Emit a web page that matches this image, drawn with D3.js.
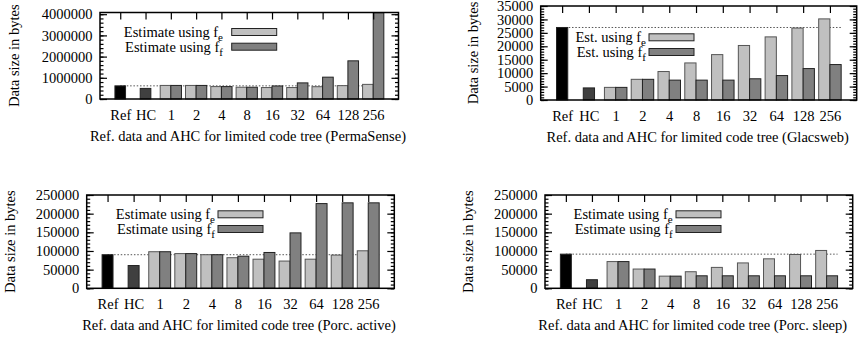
<!DOCTYPE html>
<html lang="en">
<head>
<meta charset="UTF-8">
<title>Ref. data and AHC for limited code tree</title>
<script src="https://cdn.jsdelivr.net/npm/d3@7/dist/d3.min.js"></script>
<style>
    body { margin: 0; background: #fff; }
    svg text { font-family: "Liberation Serif", "Times New Roman", serif; font-size: 14.5px; fill: #000; }
</style>
</head>
<body>
<svg width="862" height="339" id="chart"></svg>

<script>
    // categories along x
    var categories = ["Ref", "HC", "1", "2", "4", "8", "16", "32", "64", "128", "256"];

    // PermaSense: Ref, HC, then f_e / f_f for code tree limits 1..256
    var permaSingle = [620000, 500000];
    var permaFe = [640000, 640000, 585000, 555000, 540000, 540000, 580000, 630000, 690000];
    var permaFf = [640000, 640000, 585000, 555000, 615000, 760000, 1030000, 1800000, 4070000];
    var permaTicks = [0, 1000000, 2000000, 3000000, 4000000];

    // Glacsweb
    var glacSingle = [27000, 4500];
    var glacFe = [4700, 7700, 10600, 13800, 16900, 20300, 23500, 26800, 30200];
    var glacFf = [4700, 7700, 7400, 7400, 7400, 7900, 9100, 11700, 13200];
    var glacTicks = [0, 5000, 10000, 15000, 20000, 25000, 30000, 35000];

    // Porcupine active
    var activeSingle = [90000, 61000];
    var activeFe = [98000, 93000, 90000, 82000, 78000, 73000, 78000, 89000, 100500];
    var activeFf = [98000, 93000, 90000, 86000, 96000, 148500, 227000, 229000, 229000];

    // Porcupine sleep
    var sleepSingle = [91500, 23000];
    var sleepFe = [71600, 51600, 32600, 44400, 56000, 68000, 79000, 90600, 101400];
    var sleepFf = [71600, 51600, 32600, 33500, 33500, 33500, 33500, 33500, 33500];

    var porcTicks = [0, 50000, 100000, 150000, 200000, 250000];

    var longLegend = ["Estimate using f", "Estimate using f"];
    var shortLegend = ["Est. using f", "Est. using f"];
    var legendSub = ["e", "f"];

    var svg = d3.select("#chart");

    var singleColors = ["#000000", "#404040"];
    var feColor = "#c0c0c0";
    var ffColor = "#808080";
    var barW = 0.42;

    function drawPanel(p) {
        var g = svg.append("g");
        var x = d3.scaleLinear().domain([-0.8, 11]).range([p.left, p.right]);
        var y = d3.scaleLinear().domain([0, p.yMax]).range([p.bottom, p.top]);

        var minor = d3.range(0, p.yMax + 1, p.minorStep);

        // reference level, dotted, behind the bars
        g.append("line")
            .attr("x1", x(0))
            .attr("x2", x(10 + barW))
            .attr("y1", y(p.single[0]))
            .attr("y2", y(p.single[0]))
            .attr("stroke", "#555")
            .attr("stroke-width", 1)
            .attr("stroke-dasharray", "1.5,1.8");

        // Ref and HC bars
        g.selectAll(".single")
            .data(p.single)
            .enter()
            .append("rect")
            .attr("x", function (d, i) { return x(i - barW / 2); })
            .attr("y", function (d) { return y(d); })
            .attr("width", x(barW) - x(0))
            .attr("height", function (d) { return y(0) - y(d); })
            .attr("fill", function (d, i) { return singleColors[i]; })
            .attr("stroke", "#222")
            .attr("stroke-width", 1);

        // f_e bars
        g.selectAll(".fe")
            .data(p.fe)
            .enter()
            .append("rect")
            .attr("x", function (d, i) { return x(i + 2 - barW); })
            .attr("y", function (d) { return y(d); })
            .attr("width", x(barW) - x(0))
            .attr("height", function (d) { return y(0) - y(d); })
            .attr("fill", feColor)
            .attr("stroke", "#555")
            .attr("stroke-width", 1);

        // f_f bars
        g.selectAll(".ff")
            .data(p.ff)
            .enter()
            .append("rect")
            .attr("x", function (d, i) { return x(i + 2); })
            .attr("y", function (d) { return y(d); })
            .attr("width", x(barW) - x(0))
            .attr("height", function (d) { return y(0) - y(d); })
            .attr("fill", ffColor)
            .attr("stroke", "#222")
            .attr("stroke-width", 1);

        // left axis with labels, ticks pointing inward
        g.append("g")
            .attr("transform", "translate(" + p.left + ",0)")
            .call(d3.axisLeft(y).tickValues(p.ticks).tickSize(-7).tickPadding(7.5).tickFormat(d3.format("d")));
        g.append("g")
            .attr("transform", "translate(" + p.left + ",0)")
            .call(d3.axisLeft(y).tickValues(minor).tickSize(-3.5).tickFormat(""));
        g.append("g")
            .attr("transform", "translate(" + p.right + ",0)")
            .call(d3.axisRight(y).tickValues(p.ticks).tickSize(-7).tickFormat(""));
        g.append("g")
            .attr("transform", "translate(" + p.right + ",0)")
            .call(d3.axisRight(y).tickValues(minor).tickSize(-3.5).tickFormat(""));
        g.append("g")
            .attr("transform", "translate(0," + p.top + ")")
            .call(d3.axisTop(x).tickValues(d3.range(categories.length)).tickSize(-7).tickFormat(""));
        g.append("g")
            .attr("transform", "translate(0," + p.bottom + ")")
            .call(d3.axisBottom(x).tickValues(d3.range(categories.length)).tickSize(0).tickPadding(10.5)
                .tickFormat(function (i) { return categories[i]; }));

        g.selectAll(".domain").remove();
        g.selectAll(".tick line").attr("stroke", "#000").attr("stroke-width", 1.2);
        g.selectAll(".tick text").attr("font-family", null).attr("font-size", null);

        // frame
        g.append("rect")
            .attr("x", p.left)
            .attr("y", p.top)
            .attr("width", p.right - p.left)
            .attr("height", p.bottom - p.top)
            .attr("fill", "none")
            .attr("stroke", "#000")
            .attr("stroke-width", 1.5);

        // axis titles
        g.append("text")
            .attr("transform", "translate(" + p.yLabelX + "," + (p.top + p.bottom) / 2 + ") rotate(-90)")
            .attr("text-anchor", "middle")
            .attr("dy", "0.35em")
            .text("Data size in bytes");
        g.append("text")
            .attr("x", p.xTitleX)
            .attr("y", p.bottom + 37)
            .attr("text-anchor", "middle")
            .attr("dy", "0.35em")
            .text(p.title);

        // legend
        var colors = [feColor, ffColor];
        for (var k = 0; k < 2; k++) {
            var ly = p.legY + k * 14.7;
            var t = g.append("text")
                .attr("x", p.legTextX)
                .attr("y", ly)
                .attr("dy", "0.35em")
                .attr("text-anchor", "end");
            t.append("tspan").text(p.legend[k]);
            t.append("tspan")
                .attr("dy", "4")
                .attr("font-size", "11px")
                .text(legendSub[k]);
            g.append("rect")
                .attr("x", p.legBoxX)
                .attr("y", ly - 3.5)
                .attr("width", 45)
                .attr("height", 7)
                .attr("fill", colors[k])
                .attr("stroke", "#222")
                .attr("stroke-width", 1);
        }
    }

    drawPanel({
        left: 100, right: 398.5, top: 12.5, bottom: 99,
        yMax: 4080000, minorStep: 200000, ticks: permaTicks,
        single: permaSingle, fe: permaFe, ff: permaFf,
        yLabelX: 14, xTitleX: 248,
        title: "Ref. data and AHC for limited code tree (PermaSense)",
        legend: longLegend, legTextX: 223, legBoxX: 231.7, legY: 32
    });

    drawPanel({
        left: 540.7, right: 856.7, top: 6, bottom: 100,
        yMax: 35000, minorStep: 1000, ticks: glacTicks,
        single: glacSingle, fe: glacFe, ff: glacFf,
        yLabelX: 472.7, xTitleX: 697.7,
        title: "Ref. data and AHC for limited code tree (Glacsweb)",
        legend: shortLegend, legTextX: 646, legBoxX: 649, legY: 37.3
    });

    drawPanel({
        left: 86.7, right: 394.3, top: 195, bottom: 288.3,
        yMax: 250000, minorStep: 10000, ticks: porcTicks,
        single: activeSingle, fe: activeFe, ff: activeFf,
        yLabelX: 10, xTitleX: 239,
        title: "Ref. data and AHC for limited code tree (Porc. active)",
        legend: longLegend, legTextX: 215, legBoxX: 218, legY: 214.3
    });

    drawPanel({
        left: 545, right: 852.7, top: 195, bottom: 288.3,
        yMax: 250000, minorStep: 10000, ticks: porcTicks,
        single: sleepSingle, fe: sleepFe, ff: sleepFf,
        yLabelX: 467.7, xTitleX: 692.7,
        title: "Ref. data and AHC for limited code tree (Porc. sleep)",
        legend: longLegend, legTextX: 672.7, legBoxX: 676, legY: 214.3
    });
</script>
</body>
</html>
